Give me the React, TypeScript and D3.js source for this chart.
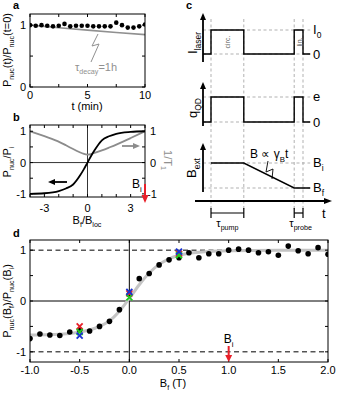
import React from "react";
import * as d3 from "d3";

const FONT = "'Liberation Sans', Arial, Helvetica, sans-serif";

// panel a: polarization vs time
const tMin = [0, 0.5, 1, 1.5, 2, 2.5, 3, 3.5, 4, 4.5, 5, 5.5, 6, 6.5, 7, 7.5, 8, 8.5, 9, 9.5, 10];
const pTime = [1.0, 0.99, 1.0, 0.99, 0.98, 0.99, 1.02, 0.98, 0.99, 0.99, 0.99, 0.98, 0.98, 0.98, 0.98, 1.04, 1.0, 0.96, 0.96, 0.98, 1.01];
const decayT = [0, 2.5, 5, 7.5, 10];
const decayP = [1.0, 0.959, 0.92, 0.882, 0.846];

// panel b: model curves vs Bf/Bloc
const bRatio = [-4, -3, -2, -1.5, -1, -0.5, -0.25, 0, 0.25, 0.5, 1, 1.5, 2, 3, 4];
const pModel = [-1.0, -0.98, -0.91, -0.83, -0.7, -0.4, -0.21, 0, 0.21, 0.4, 0.71, 0.84, 0.92, 0.98, 1.0];
const invT1 = [1.0, 0.85, 0.68, 0.55, 0.43, 0.32, 0.27, 0.25, 0.27, 0.31, 0.39, 0.48, 0.57, 0.78, 1.0];

// panel c: timing sequence (arbitrary time units)
const seqT = [0, 1, 1, 5.1, 5.1, 11.4, 11.4, 12.5, 12.5, 13.4];
const laserLevel = [0, 0, 1, 1, 0, 0, 1, 1, 0, 0];
const chargeLevel = [0, 0, 1, 1, 0, 0, 1, 1, 0, 0];
const fieldT = [1, 5.1, 11.4, 12.5, 13.4];
const fieldLevel = [1, 1, 0, 0, 0];
const edgesT = [1, 5.1, 11.4, 12.5];

// panel d: measured ratio vs Bf
const bf = [-1.0, -0.9, -0.8, -0.7, -0.6, -0.5, -0.4, -0.3, -0.2, -0.1, 0.0, 0.1, 0.2, 0.3, 0.4, 0.5, 0.6, 0.7, 0.8, 0.9, 1.0, 1.1, 1.2, 1.3, 1.4, 1.5, 1.6, 1.7, 1.8, 1.9, 2.0];
const ratio = [-0.74, -0.65, -0.67, -0.68, -0.61, -0.57, -0.59, -0.5, -0.4, -0.17, 0.13, 0.44, 0.54, 0.71, 0.81, 0.85, 0.95, 0.85, 0.93, 0.93, 1.0, 1.02, 1.0, 0.95, 0.97, 0.9, 1.08, 0.99, 0.93, 1.05, 0.92];
const fitB = [-1.0, -0.8, -0.6, -0.5, -0.4, -0.3, -0.2, -0.1, 0.0, 0.1, 0.2, 0.3, 0.4, 0.5, 0.7, 1.0, 1.5, 2.0];
const fitR = [-0.67, -0.66, -0.64, -0.61, -0.57, -0.5, -0.39, -0.2, 0.05, 0.32, 0.55, 0.72, 0.83, 0.9, 0.96, 0.99, 1.0, 1.0];
const crossB = [-0.5, 0.0, 0.5];
const crossRed = [-0.5, 0.15, 0.93];
const crossGreen = [-0.61, 0.07, 0.9];
const crossBlue = [-0.68, 0.18, 0.97];

type Part = [string, boolean];

const Rich = ({ parts, ...rest }: { parts: Part[] } & React.SVGProps<SVGTextElement>) => {
  let cur = 0;
  const fs = Number(rest.fontSize ?? 11);
  return (
    <text {...rest}>
      {parts.map(([s, sub], i) => {
        const target = sub ? fs * 0.3 : 0;
        const dy = target - cur;
        cur = target;
        return (
          <tspan key={i} dy={dy} fontSize={sub ? fs * 0.65 : fs}>
            {s}
          </tspan>
        );
      })}
    </text>
  );
};

const App: React.FC = () => {
  // scales
  const xA = d3.scaleLinear().domain([0, 10]).range([30, 145]);
  const yA = d3.scaleLinear().domain([0, 1.18]).range([87, 14]);
  const xB = d3.scaleLinear().domain([-4, 4]).range([30, 145]);
  const yB = d3.scaleLinear().domain([-1.1, 1.2]).range([197, 125]);
  const xC = d3.scaleLinear().domain([0, 16]).range([203, 331]);
  const yLaser = d3.scaleLinear().domain([0, 1]).range([54, 30]);
  const yCharge = d3.scaleLinear().domain([0, 1]).range([122, 97]);
  const yField = d3.scaleLinear().domain([0, 1]).range([188, 163]);
  const xD = d3.scaleLinear().domain([-1, 2]).range([30, 328]);
  const yD = d3.scaleLinear().domain([-1.2, 1.2]).range([362, 240]);

  const lineA = d3.line<number>().x((_, i) => xA(decayT[i])).y((d) => yA(d));
  const lineB1 = d3.line<number>().x((_, i) => xB(bRatio[i])).y((d) => yB(d)).curve(d3.curveMonotoneX);
  const lineB2 = d3.line<number>().x((_, i) => xB(bRatio[i])).y((d) => yB(d)).curve(d3.curveBasis);
  const lineLaser = d3.line<number>().x((_, i) => xC(seqT[i])).y((d) => yLaser(d));
  const lineCharge = d3.line<number>().x((_, i) => xC(seqT[i])).y((d) => yCharge(d));
  const lineField = d3.line<number>().x((_, i) => xC(fieldT[i])).y((d) => yField(d));
  const lineFit = d3.line<number>().x((_, i) => xD(fitB[i])).y((d) => yD(d)).curve(d3.curveMonotoneX);

  const tick = 3;
  const labelSize = 11;

  const cross = (x: number, y: number, color: string, key: string) => (
    <g key={key} stroke={color} strokeWidth={1.9}>
      <line x1={x - 3} y1={y - 3} x2={x + 3} y2={y + 3} />
      <line x1={x - 3} y1={y + 3} x2={x + 3} y2={y - 3} />
    </g>
  );

  const vArrowUp = (x: number, y0: number, y1: number) => (
    <g>
      <line x1={x} y1={y0} x2={x} y2={y1 + 5} stroke="#000" strokeWidth={1.8} />
      <polygon points={`${x - 3},${y1 + 7} ${x + 3},${y1 + 7} ${x},${y1}`} fill="#000" />
    </g>
  );

  return (
    <svg
      width={339}
      height={394}
      style={{ position: "absolute", left: 0, top: 0, background: "#fff" }}
      fontFamily={FONT}
    >
      <defs>
        <clipPath id="clipA">
          <rect x={30} y={14} width={115} height={73} />
        </clipPath>
        <clipPath id="clipB">
          <rect x={30} y={125} width={115} height={72} />
        </clipPath>
        <clipPath id="clipD">
          <rect x={30} y={240} width={298} height={122} />
        </clipPath>
      </defs>

      {/* ---------- panel a ---------- */}
      <text x={13} y={9} fontSize={11} fontWeight="bold">a</text>
      <g clipPath="url(#clipA)">
        <path d={lineA(decayP) ?? ""} fill="none" stroke="#909090" strokeWidth={1.6} />
        {pTime.map((p, i) => (
          <circle key={i} cx={xA(tMin[i])} cy={yA(p)} r={2.3} fill="#000" />
        ))}
      </g>
      <path d="M98,34 L92,46 L99,44 L91,62" fill="none" stroke="#909090" strokeWidth={1} />
      <Rich
        x={75}
        y={71}
        fontSize={11}
        fill="#909090"
        parts={[["τ", false], ["decay", true], ["=1h", false]]}
      />
      <rect x={30} y={14} width={115} height={73} fill="none" stroke="#000" strokeWidth={1} />
      {[0, 2.5, 5, 7.5, 10].map((t) => (
        <g key={t}>
          <line x1={xA(t)} x2={xA(t)} y1={87} y2={87 - tick} stroke="#000" />
          <line x1={xA(t)} x2={xA(t)} y1={14} y2={14 + tick} stroke="#000" />
        </g>
      ))}
      {[0, 0.5, 1].map((v) => (
        <g key={v}>
          <line x1={30} x2={30 + tick} y1={yA(v)} y2={yA(v)} stroke="#000" />
          <line x1={145} x2={145 - tick} y1={yA(v)} y2={yA(v)} stroke="#000" />
        </g>
      ))}
      {[0, 5, 10].map((t) => (
        <text key={t} x={xA(t)} y={99} fontSize={labelSize} textAnchor="middle">{t}</text>
      ))}
      {[0, 1].map((v) => (
        <text key={v} x={26} y={yA(v) + 4} fontSize={labelSize} textAnchor="end">{v}</text>
      ))}
      <text x={87} y={110} fontSize={labelSize} textAnchor="middle">t (min)</text>
      <Rich
        transform="translate(11,50) rotate(-90)"
        x={0}
        y={0}
        fontSize={11}
        textAnchor="middle"
        parts={[["P", false], ["nuc", true], ["(t)/P", false], ["nuc", true], ["(t=0)", false]]}
      />

      {/* ---------- panel b ---------- */}
      <text x={13} y={121} fontSize={11} fontWeight="bold">b</text>
      <line x1={xB(0)} x2={xB(0)} y1={125} y2={197} stroke="#000" strokeWidth={0.8} />
      <line x1={30} x2={145} y1={yB(0)} y2={yB(0)} stroke="#000" strokeWidth={0.8} />
      <g clipPath="url(#clipB)">
        <path d={lineB2(invT1) ?? ""} fill="none" stroke="#8c8c8c" strokeWidth={1.8} />
        <path d={lineB1(pModel) ?? ""} fill="none" stroke="#000" strokeWidth={1.8} />
      </g>
      <rect x={30} y={125} width={115} height={72} fill="none" stroke="#000" strokeWidth={1} />
      {d3.range(-4, 5).map((t) => (
        <g key={t}>
          <line x1={xB(t)} x2={xB(t)} y1={197} y2={197 - tick} stroke="#000" />
          <line x1={xB(t)} x2={xB(t)} y1={125} y2={125 + tick} stroke="#000" />
        </g>
      ))}
      {[-1, -0.5, 0, 0.5, 1].map((v) => (
        <g key={v}>
          <line x1={30} x2={30 + tick} y1={yB(v)} y2={yB(v)} stroke="#000" />
          <line x1={145} x2={145 - tick} y1={yB(v)} y2={yB(v)} stroke="#000" />
        </g>
      ))}
      {[-3, 0, 3].map((t) => (
        <text key={t} x={xB(t)} y={212} fontSize={labelSize} textAnchor="middle">{t}</text>
      ))}
      {[-1, 0, 1].map((v) => (
        <text key={v} x={26} y={yB(v) + 4} fontSize={labelSize} textAnchor="end">{v}</text>
      ))}
      {[-1, 0, 1].map((v) => (
        <text key={v} x={v < 0 ? 147 : 150} y={yB(v) + 4} fontSize={labelSize}>{v}</text>
      ))}
      <Rich
        x={87}
        y={224}
        fontSize={11}
        textAnchor="middle"
        parts={[["B", false], ["f", true], ["/B", false], ["loc", true]]}
      />
      <Rich
        transform="translate(11,162) rotate(-90)"
        x={0}
        y={0}
        fontSize={11}
        textAnchor="middle"
        parts={[["P", false], ["nuc", true], ["/P", false], ["i", true]]}
      />
      <Rich
        transform="translate(164,160) rotate(90)"
        x={0}
        y={0}
        fontSize={11}
        fill="#909090"
        textAnchor="middle"
        parts={[["1/T", false], ["1", true]]}
      />
      {/* direction arrows */}
      <line x1={67} x2={54} y1={182} y2={182} stroke="#000" strokeWidth={1.8} />
      <polygon points="48,182 55,179 55,185" fill="#000" />
      <line x1={122} x2={134} y1={146} y2={146} stroke="#8c8c8c" strokeWidth={1.8} />
      <polygon points="140,146 133,143 133,149" fill="#8c8c8c" />
      <Rich x={132} y={188} fontSize={12} parts={[["B", false], ["i", true]]} />
      <line x1={145} x2={145} y1={184} y2={196} stroke="#e8202a" strokeWidth={2} />
      <polygon points="141.5,195 148.5,195 145,203" fill="#e8202a" />

      {/* ---------- panel c ---------- */}
      <text x={186} y={9} fontSize={11} fontWeight="bold">c</text>
      <g stroke="#a8a8a8" strokeWidth={0.9} strokeDasharray="3,2.5" fill="none">
        {edgesT.map((t) => (
          <line key={t} x1={xC(t)} x2={xC(t)} y1={19} y2={209} />
        ))}
        {[yLaser(0), yLaser(1), yCharge(0), yCharge(1), yField(0), yField(1)].map((y, i) => (
          <line key={i} x1={xC(0)} x2={xC(13.4)} y1={y} y2={y} />
        ))}
      </g>
      {vArrowUp(xC(0), 62, 13)}
      {vArrowUp(xC(0), 126, 82)}
      {vArrowUp(xC(0), 192, 143)}
      <path d={lineLaser(laserLevel) ?? ""} fill="none" stroke="#000" strokeWidth={1.4} />
      <path d={lineCharge(chargeLevel) ?? ""} fill="none" stroke="#000" strokeWidth={1.4} />
      <path d={lineField(fieldLevel) ?? ""} fill="none" stroke="#000" strokeWidth={1.4} />
      <text transform={`translate(${(xC(1) + xC(5.1)) / 2 + 3},42) rotate(-90)`} fontSize={7} fill="#555" textAnchor="middle">circ.</text>
      <text transform={`translate(${(xC(11.4) + xC(12.5)) / 2 + 3},42) rotate(-90)`} fontSize={7} fill="#555" textAnchor="middle">lin.</text>
      <Rich transform="translate(197,43) rotate(-90)" x={0} y={0} fontSize={13} textAnchor="middle" parts={[["I", false], ["laser", true]]} />
      <Rich transform="translate(197,108) rotate(-90)" x={0} y={0} fontSize={13} textAnchor="middle" parts={[["q", false], ["QD", true]]} />
      <Rich transform="translate(196,168) rotate(-90)" x={0} y={0} fontSize={13} textAnchor="middle" parts={[["B", false], ["ext", true]]} />
      <Rich x={313} y={yLaser(1) + 4} fontSize={13} parts={[["I", false], ["0", true]]} />
      <text x={313} y={yLaser(0) + 5} fontSize={13}>0</text>
      <text x={313} y={yCharge(1) + 4} fontSize={13}>e</text>
      <text x={313} y={yCharge(0) + 5} fontSize={13}>0</text>
      <Rich x={313} y={yField(1) + 4} fontSize={13} parts={[["B", false], ["i", true]]} />
      <Rich x={313} y={yField(0) + 4} fontSize={13} parts={[["B", false], ["f", true]]} />
      <Rich x={250} y={158} fontSize={12} parts={[["B ∝ γ", false], ["B", true], ["t", false]]} />
      <path d="M268,161 L266,172 L273,169 L272,179" fill="none" stroke="#000" strokeWidth={0.9} />
      {/* time axis */}
      <line x1={195} x2={326} y1={201} y2={201} stroke="#000" strokeWidth={1.8} />
      <polygon points="332,201 324,198 324,204" fill="#000" />
      <text x={322} y={218} fontSize={13}>t</text>
      {[
        [edgesT[0], edgesT[1]],
        [edgesT[2], edgesT[3]],
      ].map(([a, b], i) => (
        <g key={i} stroke="#000" strokeWidth={1.2}>
          <line x1={xC(a)} x2={xC(b)} y1={213} y2={213} />
          <line x1={xC(a)} x2={xC(a)} y1={208} y2={218} />
          <line x1={xC(b)} x2={xC(b)} y1={208} y2={218} />
        </g>
      ))}
      <Rich x={(xC(1) + xC(5.1)) / 2} y={227} fontSize={11} textAnchor="middle" parts={[["τ", false], ["pump", true]]} />
      <Rich x={(xC(11.4) + xC(12.5)) / 2 + 2} y={227} fontSize={11} textAnchor="middle" parts={[["τ", false], ["probe", true]]} />

      {/* ---------- panel d ---------- */}
      <text x={13} y={237} fontSize={11} fontWeight="bold">d</text>
      <line x1={xD(0)} x2={xD(0)} y1={240} y2={362} stroke="#000" strokeWidth={1} />
      <line x1={30} x2={328} y1={yD(0)} y2={yD(0)} stroke="#000" strokeWidth={1} />
      {[1, -1].map((v) => (
        <line key={v} x1={30} x2={328} y1={yD(v)} y2={yD(v)} stroke="#000" strokeWidth={1} strokeDasharray="5,3.5" />
      ))}
      <g clipPath="url(#clipD)">
        <path d={lineFit(fitR) ?? ""} fill="none" stroke="#c4c4c4" strokeWidth={3} />
        {ratio.map((r, i) => (
          <circle key={i} cx={xD(bf[i])} cy={yD(r)} r={2.8} fill="#000" />
        ))}
      </g>
      {crossB.map((b, i) => (
        <g key={b}>
          {cross(xD(b), yD(crossRed[i]), "#e8202a", "r")}
          {cross(xD(b), yD(crossGreen[i]), "#22c822", "g")}
          {cross(xD(b), yD(crossBlue[i]), "#1a32d0", "b")}
        </g>
      ))}
      <rect x={30} y={240} width={298} height={122} fill="none" stroke="#000" strokeWidth={1} />
      {d3.range(-1, 2.01, 0.5).map((t) => (
        <g key={t}>
          <line x1={xD(t)} x2={xD(t)} y1={362} y2={362 - tick} stroke="#000" />
          <line x1={xD(t)} x2={xD(t)} y1={240} y2={240 + tick} stroke="#000" />
        </g>
      ))}
      {[-1, -0.5, 0, 0.5, 1].map((v) => (
        <g key={v}>
          <line x1={30} x2={30 + tick} y1={yD(v)} y2={yD(v)} stroke="#000" />
          <line x1={328} x2={328 - tick} y1={yD(v)} y2={yD(v)} stroke="#000" />
        </g>
      ))}
      {d3.range(-1, 2.01, 0.5).map((t) => (
        <text key={t} x={xD(t)} y={374} fontSize={labelSize} textAnchor="middle">{t.toFixed(1)}</text>
      ))}
      {[-1, 0, 1].map((v) => (
        <text key={v} x={26} y={yD(v) + 4} fontSize={labelSize} textAnchor="end">{v}</text>
      ))}
      <Rich x={173} y={387} fontSize={11} textAnchor="middle" parts={[["B", false], ["f", true], [" (T)", false]]} />
      <Rich
        transform="translate(11,301) rotate(-90)"
        x={0}
        y={0}
        fontSize={11}
        textAnchor="middle"
        parts={[["P", false], ["nuc", true], ["(B", false], ["f", true], [")/P", false], ["nuc", true], ["(B", false], ["i", true], [")", false]]}
      />
      <Rich x={xD(1)} y={343} fontSize={12} textAnchor="middle" parts={[["B", false], ["i", true]]} />
      <line x1={xD(1)} x2={xD(1)} y1={346} y2={356} stroke="#e8202a" strokeWidth={2} />
      <polygon points={`${xD(1) - 3.5},355 ${xD(1) + 3.5},355 ${xD(1)},362`} fill="#e8202a" />
    </svg>
  );
};

export default App;
